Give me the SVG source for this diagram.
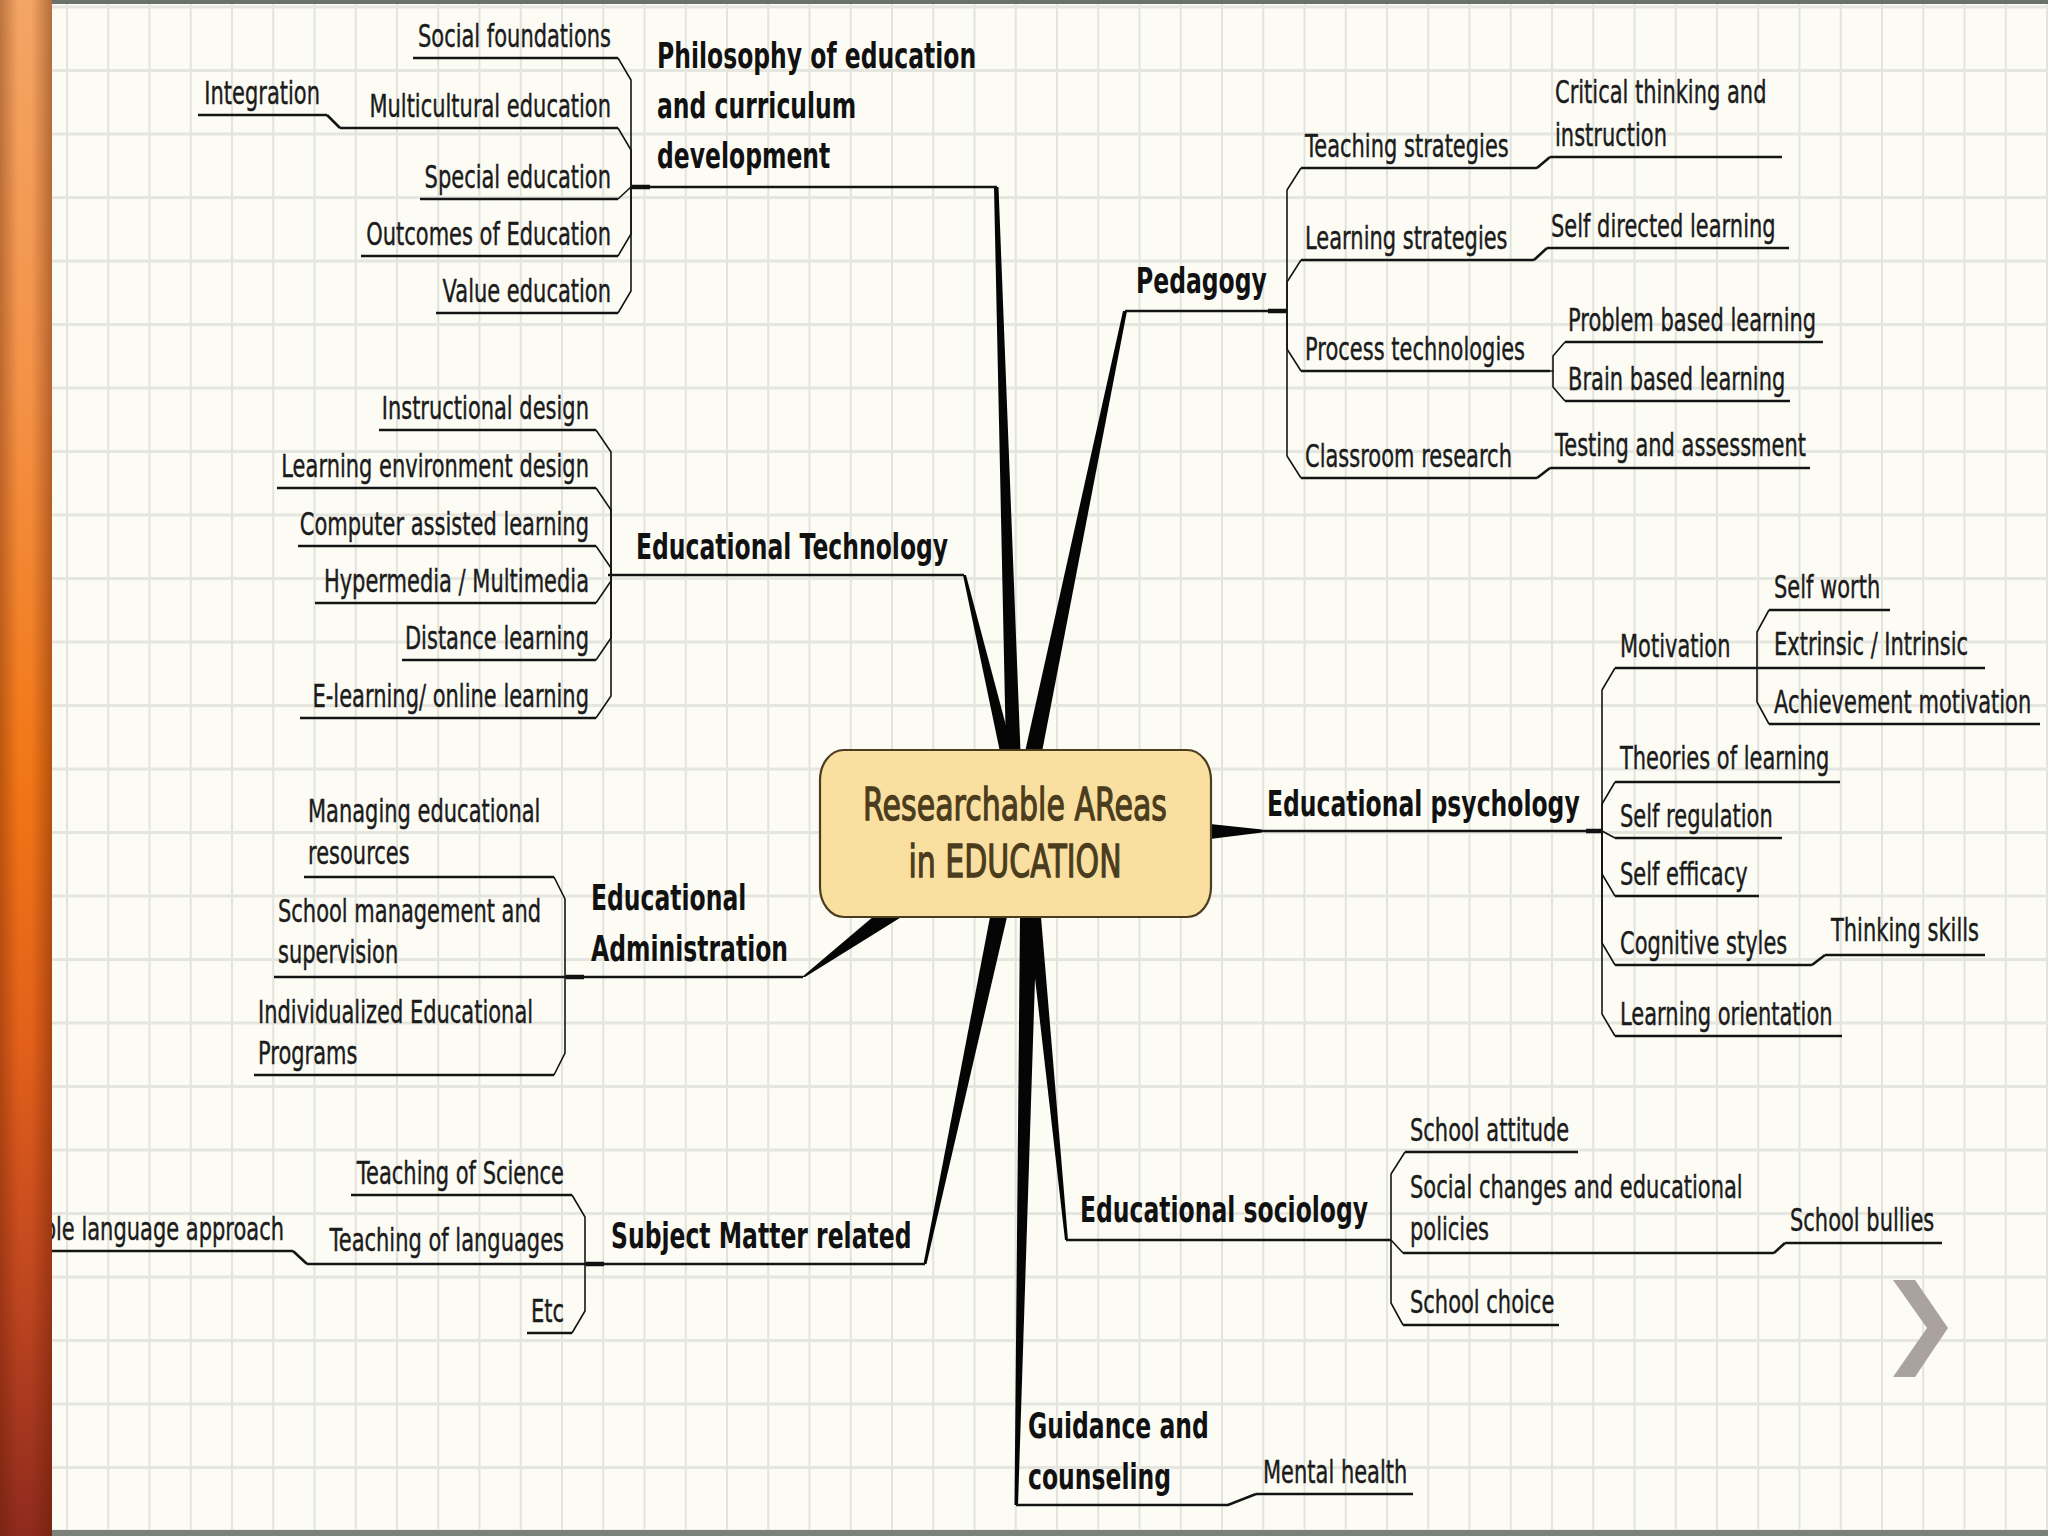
<svg xmlns="http://www.w3.org/2000/svg" width="2048" height="1536" viewBox="0 0 2048 1536">
<defs>
<pattern id="grid" x="66" y="69" width="41.25" height="63.5" patternUnits="userSpaceOnUse">
<rect width="41.25" height="63.5" fill="#fcfcf5"/>
<rect x="0" y="0" width="2" height="63.5" fill="#e2e3dc"/>
<rect x="0" y="0" width="41.25" height="3" fill="#e5e6df"/>
</pattern>
<linearGradient id="barV" x1="0" y1="0" x2="0" y2="1">
<stop offset="0" stop-color="#f3a564"/>
<stop offset="0.25" stop-color="#f49248"/>
<stop offset="0.5" stop-color="#f27716"/>
<stop offset="0.68" stop-color="#e2601a"/>
<stop offset="0.85" stop-color="#bd4420"/>
<stop offset="1" stop-color="#8e2a1e"/>
</linearGradient>
<linearGradient id="barH" x1="0" y1="0" x2="1" y2="0">
<stop offset="0" stop-color="#5a1a00" stop-opacity="0.35"/>
<stop offset="0.35" stop-color="#5a1a00" stop-opacity="0"/>
<stop offset="0.6" stop-color="#5a1a00" stop-opacity="0"/>
<stop offset="1" stop-color="#5a1a00" stop-opacity="0.4"/>
</linearGradient>
<style>
.t{font-family:"DejaVu Sans","Liberation Sans",sans-serif;font-size:21px;fill:#1b1b1b;stroke:#1b1b1b;stroke-width:0.3}
.b{font-family:"DejaVu Sans","Liberation Sans",sans-serif;font-size:23.5px;font-weight:bold;fill:#111}
.e{text-anchor:end}
.u{stroke:#141414;stroke-width:2.6;fill:none}
.c{stroke:#141414;stroke-width:1.6;fill:none}
.k{stroke:#111;stroke-width:4.5;fill:none}
.s{fill:#050505}
.ctr{font-family:"DejaVu Sans","Liberation Sans",sans-serif;font-size:30px;fill:#4a3c1c;stroke:#4a3c1c;stroke-width:0.9;text-anchor:middle}
</style>
</defs>

<rect x="0" y="0" width="2048" height="1536" fill="url(#grid)"/>
<rect x="52" y="0" width="1996" height="4" fill="#6b716b"/>
<rect x="52" y="1530" width="1996" height="6" fill="#7b807b"/>

<g id="connectors">
<polygon class="s" points="994,187 998.5,187 1020.5,752 1006,752"/>
<polygon class="s" points="1123,311 1127,311 1042,752 1025,752"/>
<polygon class="s" points="963,575 966,575 1013,752 1000,752"/>
<polygon class="s" points="802,977 805,977 903,916 874,916"/>
<polygon class="s" points="923.5,1264 926.5,1264 1007,917 990,917"/>
<polygon class="s" points="1020,917 1037,917 1018,1505 1014.5,1505"/>
<polygon class="s" points="1028,917 1041,917 1068,1240 1065,1240"/>
<polygon class="s" points="1210,824 1210,839 1262,832.5 1262,829.5"/>
<path class="u" d="M631,187 H997"/>
<path class="k" d="M632,187 H650"/>
<path class="u" d="M1125,311 H1287"/>
<path class="k" d="M1268,311 H1286"/>
<path class="u" d="M608,575 H964"/>
<path class="u" d="M565,977 H803"/>
<path class="k" d="M566,977 H584"/>
<path class="u" d="M585,1264 H925"/>
<path class="k" d="M586,1264 H604"/>
<path class="u" d="M1016,1505 H1228 L1256,1494"/>
<path class="u" d="M1066,1240 H1391"/>
<path class="u" d="M1262,831 H1602"/>
<path class="k" d="M1586,831 H1601"/>
<path class="c" d="M631,187 V80 L618,58"/>
<path class="c" d="M631,187 V150 L618,128"/>
<path class="c" d="M631,187 L618,199"/>
<path class="c" d="M631,187 V234 L618,256"/>
<path class="c" d="M631,187 V291 L618,313"/>
<path class="u" d="M327,115 L340,128"/>
<path class="c" d="M1287,311 V190 L1301,168"/>
<path class="c" d="M1287,311 V282 L1301,260"/>
<path class="c" d="M1287,311 V349 L1301,371"/>
<path class="c" d="M1287,311 V456 L1301,478"/>
<path class="u" d="M1537,168 L1550,157"/>
<path class="u" d="M1534,260 L1547,248"/>
<path class="u" d="M1537,478 L1550,468"/>
<path class="c" d="M1550,371 H1553 V356 L1565,342"/>
<path class="c" d="M1553,371 V387 L1565,401"/>
<path class="c" d="M611,575 V452 L596,430"/>
<path class="c" d="M611,575 V510 L596,488"/>
<path class="c" d="M611,575 V568 L596,546"/>
<path class="c" d="M611,575 V581 L596,603"/>
<path class="c" d="M611,575 V638 L596,660"/>
<path class="c" d="M611,575 V696 L596,718"/>
<path class="c" d="M565,977 V899 L554,877"/>
<path class="c" d="M565,977 V1053 L554,1075"/>
<path class="c" d="M585,1264 V1217 L572,1195"/>
<path class="c" d="M585,1264 V1311 L572,1333"/>
<path class="u" d="M293,1251 L307,1264"/>
<path class="c" d="M1391,1240 V1174 L1405,1152"/>
<path class="c" d="M1391,1240 L1403,1253"/>
<path class="c" d="M1391,1240 V1303 L1403,1325"/>
<path class="u" d="M1774,1253 L1785,1243"/>
<path class="c" d="M1602,831 V690 L1615,668"/>
<path class="c" d="M1602,831 V804 L1615,782"/>
<path class="c" d="M1602,831 L1615,838"/>
<path class="c" d="M1602,831 V874 L1615,896"/>
<path class="c" d="M1602,831 V943 L1615,965"/>
<path class="c" d="M1602,831 V1014 L1615,1036"/>
<path class="c" d="M1757,668 V632 L1769,610"/>
<path class="c" d="M1757,668 V702 L1769,724"/>
<path class="u" d="M1812,965 L1825,955"/>
</g>

<g id="center">
<rect x="820" y="750" width="391" height="167" rx="24" ry="30" fill="#fae0a0" stroke="#4d3c1e" stroke-width="2.2"/>
<text class="ctr" transform="translate(1015,820) scale(1,1.5)">Researchable AReas</text>
<text class="ctr" transform="translate(1015,877) scale(1,1.5)">in EDUCATION</text>
</g>

<g id="philosophy">
<text class="b" transform="translate(657,68) scale(1,1.5)"><tspan x="0">Philosophy of education</tspan><tspan x="0" dy="33.3">and curriculum</tspan><tspan x="0" dy="33.3">development</tspan></text>
</g>
<g id="social-foundations"><text class="t e" transform="translate(611,47) scale(1,1.5)">Social foundations</text><path class="u" d="M413,58 H618"/></g>
<g id="multicultural"><text class="t e" transform="translate(611,117) scale(1,1.5)">Multicultural education</text><path class="u" d="M340,128 H618"/></g>
<g id="integration"><text class="t e" transform="translate(320,104) scale(1,1.5)">Integration</text><path class="u" d="M198,115 H327"/></g>
<g id="special-education"><text class="t e" transform="translate(611,188) scale(1,1.5)">Special education</text><path class="u" d="M420,199 H618"/></g>
<g id="outcomes"><text class="t e" transform="translate(611,245) scale(1,1.5)">Outcomes of Education</text><path class="u" d="M361,256 H618"/></g>
<g id="value-education"><text class="t e" transform="translate(611,302) scale(1,1.5)">Value education</text><path class="u" d="M436,313 H618"/></g>

<g id="pedagogy"><text class="b" transform="translate(1136,293) scale(1,1.5)">Pedagogy</text></g>
<g id="teaching-strategies"><text class="t" transform="translate(1305,157) scale(1,1.5)">Teaching strategies</text><path class="u" d="M1301,168 H1537"/></g>
<g id="critical-thinking"><text class="t" transform="translate(1555,103) scale(1,1.5)"><tspan x="0">Critical thinking and</tspan><tspan x="0" dy="28.7">instruction</tspan></text><path class="u" d="M1550,157 H1782"/></g>
<g id="learning-strategies"><text class="t" transform="translate(1305,249) scale(1,1.5)">Learning strategies</text><path class="u" d="M1301,260 H1534"/></g>
<g id="self-directed"><text class="t" transform="translate(1551,237) scale(1,1.5)">Self directed learning</text><path class="u" d="M1547,248 H1789"/></g>
<g id="process-tech"><text class="t" transform="translate(1305,360) scale(1,1.5)">Process technologies</text><path class="u" d="M1301,371 H1550"/></g>
<g id="problem-based"><text class="t" transform="translate(1568,331) scale(1,1.5)">Problem based learning</text><path class="u" d="M1565,342 H1823"/></g>
<g id="brain-based"><text class="t" transform="translate(1568,390) scale(1,1.5)">Brain based learning</text><path class="u" d="M1565,401 H1790"/></g>
<g id="classroom-research"><text class="t" transform="translate(1305,467) scale(1,1.5)">Classroom research</text><path class="u" d="M1301,478 H1537"/></g>
<g id="testing"><text class="t" transform="translate(1555,456) scale(1,1.5)">Testing and assessment</text><path class="u" d="M1550,468 H1810"/></g>

<g id="ed-tech"><text class="b" transform="translate(636,559) scale(1,1.5)">Educational Technology</text></g>
<g id="instructional-design"><text class="t e" transform="translate(589,419) scale(1,1.5)">Instructional design</text><path class="u" d="M379,430 H596"/></g>
<g id="learning-env"><text class="t e" transform="translate(589,477) scale(1,1.5)">Learning environment design</text><path class="u" d="M277,488 H596"/></g>
<g id="computer-assisted"><text class="t e" transform="translate(589,535) scale(1,1.5)">Computer assisted learning</text><path class="u" d="M298,546 H596"/></g>
<g id="hypermedia"><text class="t e" transform="translate(589,592) scale(1,1.5)">Hypermedia / Multimedia</text><path class="u" d="M315,603 H596"/></g>
<g id="distance"><text class="t e" transform="translate(589,649) scale(1,1.5)">Distance learning</text><path class="u" d="M402,660 H596"/></g>
<g id="elearning"><text class="t e" transform="translate(589,707) scale(1,1.5)">E-learning/ online learning</text><path class="u" d="M300,718 H596"/></g>

<g id="ed-admin"><text class="b" transform="translate(591,910) scale(1,1.5)"><tspan x="0">Educational</tspan><tspan x="0" dy="34">Administration</tspan></text></g>
<g id="managing"><text class="t" transform="translate(308,822) scale(1,1.5)"><tspan x="0">Managing educational</tspan><tspan x="0" dy="28">resources</tspan></text><path class="u" d="M304,877 H554"/></g>
<g id="school-mgmt"><text class="t" transform="translate(278,922) scale(1,1.5)"><tspan x="0">School management and</tspan><tspan x="0" dy="27.5">supervision</tspan></text><path class="u" d="M274,977 H565"/></g>
<g id="individualized"><text class="t" transform="translate(258,1023) scale(1,1.5)"><tspan x="0">Individualized Educational</tspan><tspan x="0" dy="27.5">Programs</tspan></text><path class="u" d="M254,1075 H554"/></g>

<g id="subject-matter"><text class="b" transform="translate(611,1248) scale(1,1.5)">Subject Matter related</text></g>
<g id="teaching-science"><text class="t e" transform="translate(564,1184) scale(1,1.5)">Teaching of Science</text><path class="u" d="M351,1195 H572"/></g>
<g id="teaching-languages"><text class="t e" transform="translate(564,1251) scale(1,1.5)">Teaching of languages</text><path class="u" d="M307,1264 H585"/></g>
<g id="whole-language"><text class="t e" transform="translate(284,1240) scale(1,1.5)">Whole language approach</text><path class="u" d="M40,1251 H293"/></g>
<g id="etc"><text class="t e" transform="translate(564,1322) scale(1,1.5)">Etc</text><path class="u" d="M527,1333 H572"/></g>

<g id="guidance"><text class="b" transform="translate(1028,1438) scale(1,1.5)"><tspan x="0">Guidance and</tspan><tspan x="0" dy="34">counseling</tspan></text></g>
<g id="mental-health"><text class="t" transform="translate(1263,1483) scale(1,1.5)">Mental health</text><path class="u" d="M1256,1494 H1413"/></g>

<g id="sociology"><text class="b" transform="translate(1080,1222) scale(1,1.5)">Educational sociology</text></g>
<g id="school-attitude"><text class="t" transform="translate(1410,1141) scale(1,1.5)">School attitude</text><path class="u" d="M1405,1152 H1578"/></g>
<g id="social-changes"><text class="t" transform="translate(1410,1198) scale(1,1.5)"><tspan x="0">Social changes and educational</tspan><tspan x="0" dy="28">policies</tspan></text><path class="u" d="M1403,1253 H1774"/></g>
<g id="school-bullies"><text class="t" transform="translate(1790,1231) scale(1,1.5)">School bullies</text><path class="u" d="M1785,1243 H1942"/></g>
<g id="school-choice"><text class="t" transform="translate(1410,1313) scale(1,1.5)">School choice</text><path class="u" d="M1403,1325 H1559"/></g>

<g id="psychology"><text class="b" transform="translate(1267,816) scale(1,1.5)">Educational psychology</text></g>
<g id="motivation"><text class="t" transform="translate(1620,657) scale(1,1.5)">Motivation</text><path class="u" d="M1615,668 H1757"/></g>
<g id="self-worth"><text class="t" transform="translate(1774,598) scale(1,1.5)">Self worth</text><path class="u" d="M1769,610 H1890"/></g>
<g id="extrinsic"><text class="t" transform="translate(1774,655) scale(1,1.5)">Extrinsic / Intrinsic</text><path class="u" d="M1757,668 H1985"/></g>
<g id="achievement"><text class="t" transform="translate(1774,713) scale(1,1.5)">Achievement motivation</text><path class="u" d="M1769,724 H2040"/></g>
<g id="theories"><text class="t" transform="translate(1620,769) scale(1,1.5)">Theories of learning</text><path class="u" d="M1615,782 H1840"/></g>
<g id="self-regulation"><text class="t" transform="translate(1620,827) scale(1,1.5)">Self regulation</text><path class="u" d="M1615,838 H1782"/></g>
<g id="self-efficacy"><text class="t" transform="translate(1620,885) scale(1,1.5)">Self efficacy</text><path class="u" d="M1615,896 H1759"/></g>
<g id="cognitive"><text class="t" transform="translate(1620,954) scale(1,1.5)">Cognitive styles</text><path class="u" d="M1615,965 H1812"/></g>
<g id="thinking-skills"><text class="t" transform="translate(1831,941) scale(1,1.5)">Thinking skills</text><path class="u" d="M1825,955 H1985"/></g>
<g id="learning-orientation"><text class="t" transform="translate(1620,1025) scale(1,1.5)">Learning orientation</text><path class="u" d="M1615,1036 H1842"/></g>

<polygon points="1893,1280 1915,1280 1948,1328 1915,1377 1893,1377 1927,1328" fill="#aaa29d"/>

<rect x="0" y="0" width="52" height="1536" fill="url(#barV)"/>
<rect x="0" y="0" width="52" height="1536" fill="url(#barH)"/>
</svg>
